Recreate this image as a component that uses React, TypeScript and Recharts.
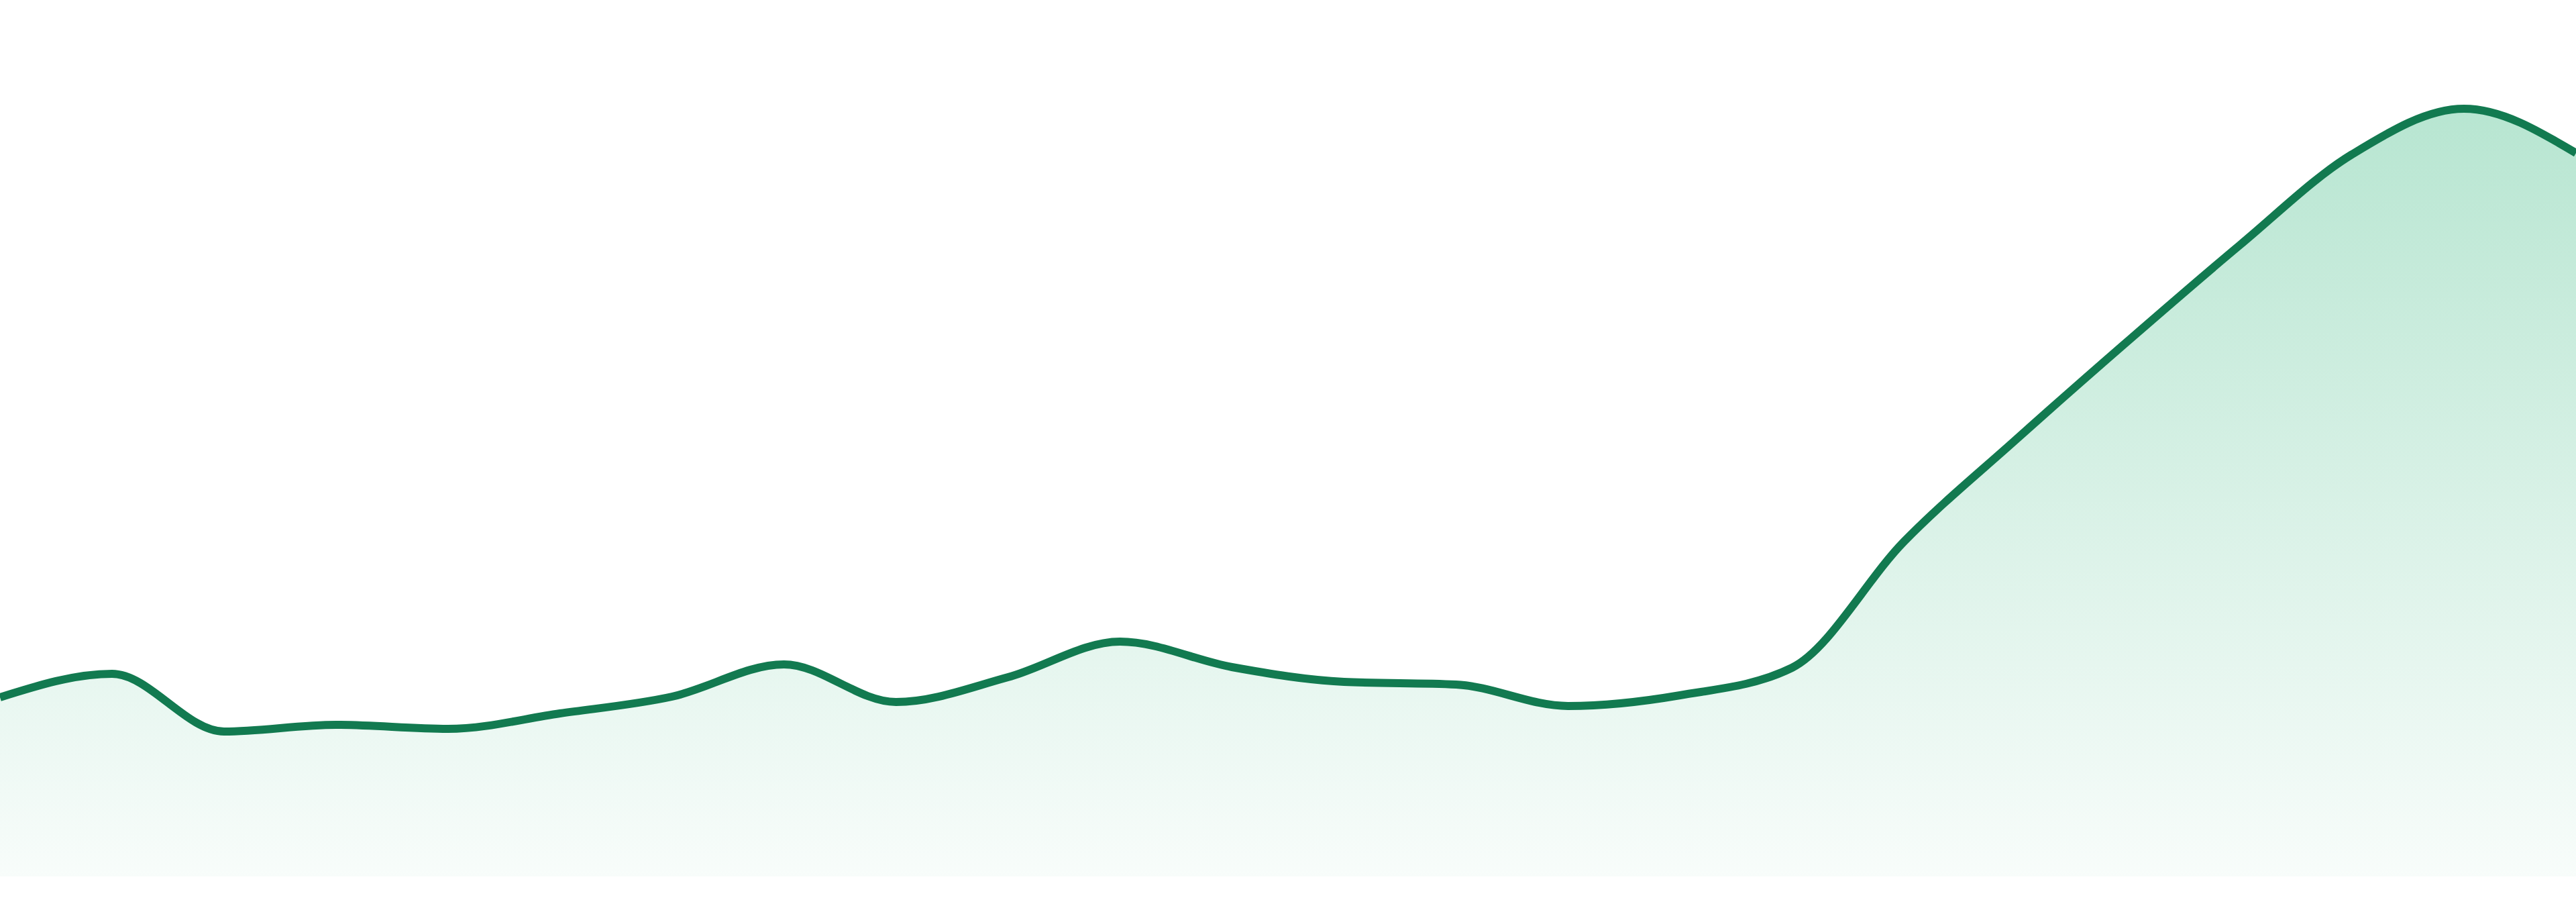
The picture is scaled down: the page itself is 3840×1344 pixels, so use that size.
import React from "react";
import { AreaChart, Area, XAxis, YAxis } from "recharts";

const labels = [
  "P01", "P02", "P03", "P04", "P05", "P06", "P07", "P08",
  "P09", "P10", "P11", "P12", "P13", "P14", "P15", "P16",
  "P17", "P18", "P19", "P20", "P21", "P22", "P23", "P24",
];

const values = [
  267, 302, 216, 226, 220, 243, 268, 316,
  260, 297, 350, 312, 290, 286, 254, 270,
  311, 499, 651, 798, 941, 1076, 1144, 1078,
];

const data = labels.map((label, i) => ({ label, value: values[i] }));

export default function App() {
  return (
    <div style={{ position: "absolute", left: 0, top: 0, width: 3840, height: 1344, background: "#ffffff" }}>
      <AreaChart width={3840} height={1344} data={data} margin={{ top: 0, right: 0, bottom: 38, left: 0 }}>
        <defs>
          <linearGradient id="fillGreen" x1="0" y1="0" x2="0" y2="1">
            <stop offset="0%" stopColor="#10aa66" stopOpacity={0.3} />
            <stop offset="100%" stopColor="#10aa66" stopOpacity={0.03} />
          </linearGradient>
        </defs>
        <XAxis dataKey="label" hide padding={{ left: 0, right: 0 }} />
        <YAxis hide domain={[0, 1306]} />
        <Area
          type="monotone"
          dataKey="value"
          stroke="#127a50"
          strokeWidth={12}
          fill="url(#fillGreen)"
          fillOpacity={1}
          isAnimationActive={false}
          dot={false}
          activeDot={false}
        />
      </AreaChart>
    </div>
  );
}
